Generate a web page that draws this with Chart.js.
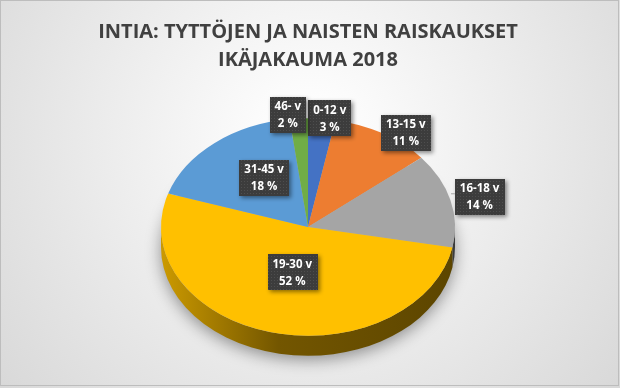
<!DOCTYPE html>
<html>
<head>
<meta charset="utf-8">
<script src="https://cdn.jsdelivr.net/npm/chart.js@4"></script>
<style>
  html, body { margin: 0; padding: 0; background: #fff; }
  #wrap { width: 620px; height: 388px; position: relative; }
</style>
</head>
<body>
<div id="wrap"><canvas id="pieChart"></canvas></div>
<script>
// Data
const categories = ['0-12 v', '13-15 v', '16-18 v', '19-30 v', '31-45 v', '46- v'];
const shares     = [3, 11, 14, 52, 18, 2];
const titleLines = ['INTIA: TYTTÖJEN JA NAISTEN RAISKAUKSET', 'IKÄJAKAUMA 2018'];

// Office palette
const colors = ['#4472C4', '#ED7D31', '#A5A5A5', '#FFC000', '#5B9BD5', '#70AD47'];

// 3D look
const TILT = 0.74;   // vertical squash of the pie
const DEPTH = 20;    // thickness in px

// label placement (radius factor, angle nudge in degrees)
const labelRadius = [1.01, 1.09, 1.2, 0.43, 0.54, 1.04];
const labelNudge  = [3, 7, 1, 0, 6, -4];

function shade(hex, f) {
  const n = parseInt(hex.slice(1), 16);
  const r = Math.round(((n >> 16) & 255) * f);
  const g = Math.round(((n >> 8) & 255) * f);
  const b = Math.round((n & 255) * f);
  return `rgb(${r},${g},${b})`;
}

function dotPattern(ctx) {
  const c = document.createElement('canvas');
  c.width = 3; c.height = 3;
  const p = c.getContext('2d');
  p.fillStyle = '#3c3c3c';
  p.fillRect(0, 0, 3, 3);
  p.fillStyle = '#4e4e4e';
  p.fillRect(1, 1, 1, 1);
  return ctx.createPattern(c, 'repeat');
}

const backgroundPlugin = {
  id: 'bg',
  beforeDraw(chart) {
    const { ctx, width, height } = chart;
    ctx.save();
    const g = ctx.createRadialGradient(width / 2, 140, 20, width / 2, 140, 420);
    g.addColorStop(0, '#ffffff');
    g.addColorStop(1, '#d6d6d6');
    ctx.fillStyle = g;
    ctx.fillRect(0, 0, width, height);
    ctx.strokeStyle = '#bdbdbd';
    ctx.lineWidth = 1;
    ctx.strokeRect(0.5, 0.5, width - 2, height - 3);
    ctx.restore();
  }
};

const pie3dPlugin = {
  id: 'pie3d',
  beforeDatasetsDraw(chart) {
    const { ctx } = chart;
    const arcs = chart.getDatasetMeta(0).data;
    if (!arcs.length) return;
    const cx = arcs[0].x, cy = arcs[0].y, R = arcs[0].outerRadius;
    const ry = R * TILT;

    // soft shadow under the pie
    ctx.save();
    ctx.shadowColor = 'rgba(0,0,0,0.4)';
    ctx.shadowBlur = 16;
    ctx.shadowOffsetY = 4;
    ctx.fillStyle = '#b0b0b0';
    ctx.beginPath();
    ctx.ellipse(cx, cy + DEPTH, R, ry, 0, 0, Math.PI * 2);
    ctx.fill();
    ctx.restore();

    // side walls for the front half
    arcs.forEach((arc, i) => {
      const a1 = Math.max(arc.startAngle, 0);
      const a2 = Math.min(arc.endAngle, Math.PI);
      if (a2 <= a1) return;
      const g = ctx.createLinearGradient(cx - R, 0, cx + R, 0);
      g.addColorStop(0, shade(colors[i], 0.8));
      g.addColorStop(0.4, shade(colors[i], 0.45));
      g.addColorStop(1, shade(colors[i], 0.36));
      ctx.save();
      ctx.fillStyle = g;
      ctx.beginPath();
      ctx.ellipse(cx, cy, R, ry, 0, a1, a2);
      ctx.ellipse(cx, cy + DEPTH, R, ry, 0, a2, a1, true);
      ctx.closePath();
      ctx.fill();
      ctx.restore();
    });

    // squash the top face
    ctx.save();
    ctx.translate(cx, cy);
    ctx.scale(1, TILT);
    ctx.translate(-cx, -cy);
  },
  afterDatasetsDraw(chart) {
    const { ctx } = chart;
    ctx.restore();

    const arcs = chart.getDatasetMeta(0).data;
    const total = shares.reduce((a, b) => a + b, 0);
    const pattern = dotPattern(ctx);
    ctx.save();
    ctx.font = 'bold 11.5px "Open Sans"';
    ctx.textAlign = 'center';
    ctx.textBaseline = 'middle';
    arcs.forEach((arc, i) => {
      const cx = arc.x, cy = arc.y, R = arc.outerRadius;
      const mid = (arc.startAngle + arc.endAngle) / 2 + labelNudge[i] * Math.PI / 180;
      const lx = cx + labelRadius[i] * R * Math.cos(mid);
      const ly = cy + labelRadius[i] * R * TILT * Math.sin(mid);
      const line1 = categories[i];
      const line2 = Math.round(shares[i] / total * 100) + ' %';
      const w = Math.max(ctx.measureText(line1).width, ctx.measureText(line2).width) + 10;
      const h = 36;

      // leader line for labels placed outside
      if (labelRadius[i] > 1.1) {
        const ex = cx + R * Math.cos(mid);
        const ey = cy + R * TILT * Math.sin(mid);
        ctx.strokeStyle = '#a6a6a6';
        ctx.lineWidth = 1;
        ctx.beginPath();
        ctx.moveTo(ex, ey - 8);
        ctx.lineTo(lx - w / 2, ey - 8);
        ctx.stroke();
      }

      ctx.save();
      ctx.shadowColor = 'rgba(0,0,0,0.45)';
      ctx.shadowBlur = 4;
      ctx.shadowOffsetX = 2;
      ctx.shadowOffsetY = 2;
      ctx.fillStyle = pattern;
      ctx.fillRect(Math.round(lx - w / 2), Math.round(ly - h / 2), Math.round(w), h);
      ctx.restore();

      ctx.fillStyle = '#ffffff';
      ctx.fillText(line1, lx, ly - 8);
      ctx.fillText(line2, lx, ly + 9);
    });
    ctx.restore();
  }
};

new Chart(document.getElementById('pieChart'), {
  type: 'pie',
  data: {
    labels: categories,
    datasets: [{
      data: shares,
      backgroundColor: colors,
      borderWidth: 0,
      hoverOffset: 0
    }]
  },
  options: {
    responsive: true,
    maintainAspectRatio: false,
    animation: false,
    events: [],
    layout: { padding: { top: 0, bottom: 14, left: 0, right: 4 } },
    plugins: {
      legend: { display: false },
      tooltip: { enabled: false },
      title: {
        display: true,
        text: titleLines,
        color: '#404040',
        font: { family: '"Open Sans"', size: 20, weight: 'bold', lineHeight: 1.4 },
        padding: { top: 18, bottom: 6 }
      }
    }
  },
  plugins: [backgroundPlugin, pie3dPlugin]
});
</script>
</body>
</html>
